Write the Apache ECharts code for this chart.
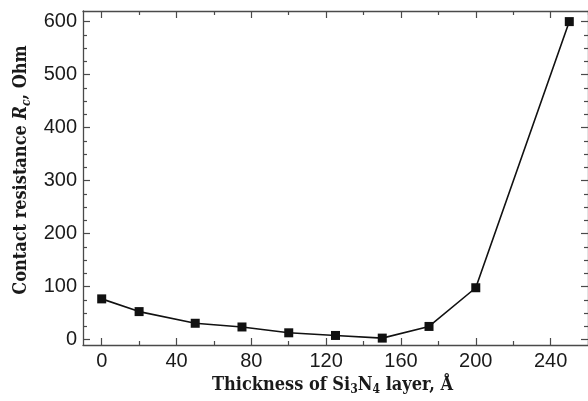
<!DOCTYPE html>
<html>
<head>
<meta charset="utf-8">
<script src="https://cdn.jsdelivr.net/npm/echarts@6/dist/echarts.min.js"></script>
<style>
  html, body { margin: 0; padding: 0; background: #fff; }
  #chart { width: 588px; height: 401px; }
</style>
</head>
<body>
<div id="chart"></div>
<script>
// data
var thickness = [0, 20, 50, 75, 100, 125, 150, 175, 200, 250];   // Å
var resistance = [77, 53, 31, 24, 13, 8, 3, 25, 98, 600];        // Ohm

// tick values
var xMajor = [0, 40, 80, 120, 160, 200, 240];
var xMinor = [20, 60, 100, 140, 180, 220, 260];
var yMajor = [0, 100, 200, 300, 400, 500, 600];
var yMinor = [25, 50, 75, 125, 150, 175, 225, 250, 275, 325, 350, 375, 425, 450, 475, 525, 550, 575];

window.onload = function () {
    var axisColor = '#4a4a4a';
    var labelFont = 'Liberation Sans';
    var nameFont = 'DejaVu Serif Condensed, DejaVu Serif';

    var points = thickness.map(function (t, i) { return [t, resistance[i]]; });

    // one axis = frame line + ticks; helper to avoid repeating
    function frameAxis(pos, min, max, ticks, len, showLine) {
        return {
            type: 'value',
            position: pos,
            min: min,
            max: max,
            axisLine: { show: showLine, onZero: false, lineStyle: { color: axisColor, width: 1.3 } },
            axisTick: { show: true, inside: true, length: len, customValues: ticks, lineStyle: { color: axisColor, width: 1.2 } },
            axisLabel: { show: false },
            splitLine: { show: false }
        };
    }

    var xMain = frameAxis('bottom', -10, 260, xMajor, 7, true);
    xMain.axisLabel = { show: true, customValues: xMajor, fontSize: 20, fontFamily: labelFont, color: '#1a1a1a', margin: 6 };
    xMain.name = '{b|Thickness of Si}{s|3}{b|N}{s|4}{b| layer, Å}';
    xMain.nameLocation = 'middle';
    xMain.nameGap = 29;
    xMain.nameTextStyle = {
        padding: [0, 6, 0, 0],
        rich: {
            b: { fontFamily: nameFont, fontWeight: 'bold', fontSize: 18, color: '#1a1a1a', lineHeight: 22 },
            s: { fontFamily: nameFont, fontWeight: 'bold', fontSize: 12, color: '#1a1a1a', lineHeight: 13, verticalAlign: 'bottom' }
        }
    };

    var yMain = frameAxis('left', -10, 620, yMajor, 7, true);
    yMain.axisLabel = { show: true, customValues: yMajor, fontSize: 20, fontFamily: labelFont, color: '#1a1a1a', margin: 6 };
    yMain.name = '{b|Contact resistance }{i|R}{si|c}{b|, Ohm}';
    yMain.nameLocation = 'middle';
    yMain.nameRotate = 90;
    yMain.nameGap = 50;
    yMain.nameTextStyle = {
        padding: [0, 0, 0, 16],
        rich: {
            b: { fontFamily: nameFont, fontWeight: 'bold', fontSize: 18, color: '#1a1a1a', lineHeight: 22 },
            i: { fontFamily: nameFont, fontWeight: 'bold', fontStyle: 'italic', fontSize: 18, color: '#1a1a1a', lineHeight: 22 },
            si: { fontFamily: nameFont, fontWeight: 'bold', fontStyle: 'italic', fontSize: 12, color: '#1a1a1a', lineHeight: 13, verticalAlign: 'bottom' }
        }
    };

    var option = {
        backgroundColor: '#fff',
        animation: false,
        grid: { left: 83, top: 11, right: -1.5, bottom: 55, containLabel: false },
        xAxis: [
            xMain,
            frameAxis('bottom', -10, 260, xMinor, 4, false),
            frameAxis('top', -10, 260, xMajor, 7, true),
            frameAxis('top', -10, 260, xMinor, 4, false)
        ],
        yAxis: [
            yMain,
            frameAxis('left', -10, 620, yMinor, 4, false),
            frameAxis('right', -10, 620, yMajor, 7, true),
            frameAxis('right', -10, 620, yMinor, 4, false)
        ],
        series: [{
            type: 'line',
            xAxisIndex: 0,
            yAxisIndex: 0,
            data: points,
            symbol: 'rect',
            symbolSize: 9,
            itemStyle: { color: '#111' },
            lineStyle: { color: '#111', width: 1.6 }
        }]
    };

    var myChart = echarts.init(document.getElementById('chart'));
    myChart.setOption(option);
};
</script>
</body>
</html>
